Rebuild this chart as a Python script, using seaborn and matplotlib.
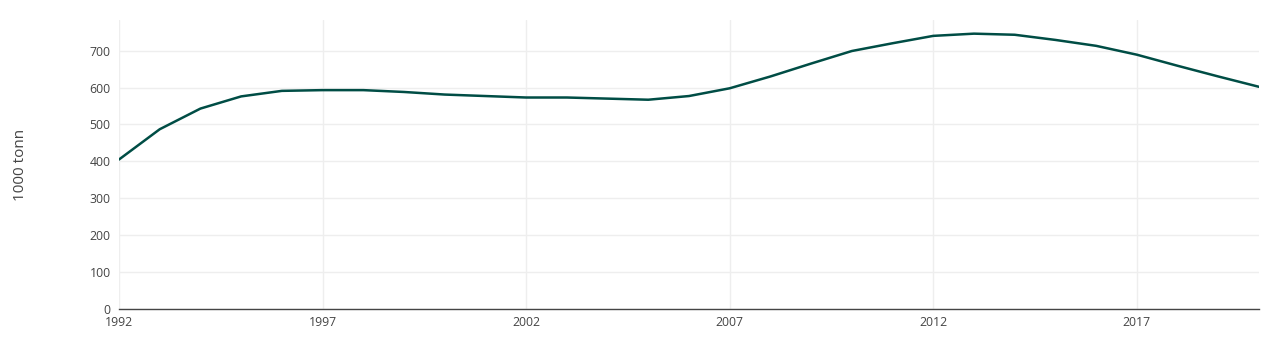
import numpy as np
import pandas as pd
import matplotlib
matplotlib.use('Agg')
import matplotlib.pyplot as plt
import seaborn as sns

# Årlige verdier lest av figuren (1000 tonn)
aar = list(range(1992, 2021))
verdier = [405, 487, 543, 576, 591, 593, 593, 588, 581, 577,
           573, 573, 570, 567, 577, 598, 630, 665, 699, 720,
           740, 746, 743, 729, 713, 689, 659, 630, 602]
x_ticks = [1992, 1997, 2002, 2007, 2012, 2017]
y_ticks = [0, 100, 200, 300, 400, 500, 600, 700]

df = pd.DataFrame({'aar': aar, 'verdi': verdier})

sns.set_theme(style='white')
plt.rcParams['font.family'] = ['Open Sans', 'DejaVu Sans']

fig = plt.figure(figsize=(12.8, 3.5), dpi=100)
ax = fig.add_axes([119 / 1280, 1 - 309 / 350, (1259 - 119) / 1280, (309 - 20) / 350])

sns.lineplot(data=df, x='aar', y='verdi', ax=ax, color='#004d45', linewidth=1.8)

ax.set_xlim(1992, 2020)
ax.set_ylim(0, 783)
ax.set_xticks(x_ticks)
ax.set_yticks(y_ticks)
ax.grid(True, color='#eeeeee', linewidth=1)
ax.set_axisbelow(True)
for side in ['top', 'right', 'left']:
    ax.spines[side].set_visible(False)
ax.spines['bottom'].set_color('#444444')
ax.spines['bottom'].set_linewidth(1)
ax.tick_params(axis='both', length=0, labelsize=8.8, colors='#444444')
ax.tick_params(axis='y', pad=6)
ax.tick_params(axis='x', pad=5)
ax.set_xlabel('')
ax.set_ylabel('')
fig.text(20 / 1280, 1 - 165 / 350, '1000 tonn', rotation=90, ha='center', va='center',
         fontsize=11, color='#444444')

fig.savefig('out.png', dpi=100)
